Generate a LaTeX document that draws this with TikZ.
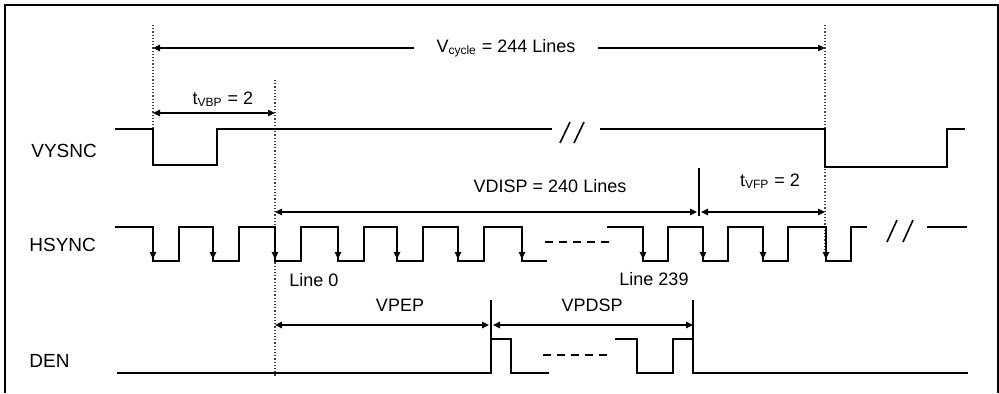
\documentclass[tikz,border=0pt]{standalone}
\usepackage{fontspec}
\setmainfont{Liberation Sans}
\usepackage{tikz}
\usetikzlibrary{arrows.meta}

\begin{document}
\begin{tikzpicture}[x=0.5pt,y=-0.5pt,>={Triangle[length=3.5pt,width=3.2pt]},
	sig/.style={line width=0.95pt},
	dim/.style={<->,line width=0.8pt},
	guide/.style={densely dotted,black!75,line width=0.6pt},
	tick/.style={line width=0.6pt},
	main label/.style={font=\fontsize{9.5}{11}\selectfont,inner sep=1pt},
	dim label/.style={font=\fontsize{9}{11}\selectfont,inner sep=1pt}]

	\useasboundingbox (0,0) rectangle (999,393);

	% frame
	\draw[line width=1pt] (5,393) -- (5,5) -- (998,5) -- (998,393);

	% signal names
	\node[main label, anchor=west] (vsync) at (29,151) {VYSNC};
	\node[main label, anchor=west] (hsync) at (27,245) {HSYNC};
	\node[main label, anchor=west] (den) at (27,361) {DEN};

	% guides
	\draw[guide] (153,25) -- (153,165);
	\draw[guide] (275,80) -- (275,377);
	\draw[guide] (825,25) -- (825,250);

	% VSYNC
	\draw[sig] (115,129) -- (153,129) -- (153,165) -- (217,165) -- (217,129) -- (552,129);
	\draw[sig] (600,129) -- (825,129) -- (825,167) -- (947,167) -- (947,129) -- (965,129);
	\draw[line width=0.8pt] (560,143) -- (570,122) (574,143) -- (584,122);

	% HSYNC
	\draw[sig] (115,227)
		\foreach \x in {153,213,275,338,397,458} { -- (\x,227) -- (\x,261) -- (\x+26,261) -- (\x+26,227) }
		-- (522,227) -- (522,261) -- (547,261);
	\draw[sig] (607,227)
		\foreach \x in {643,703,763,826} { -- (\x,227) -- (\x,261) -- (\x+25,261) -- (\x+25,227) }
		-- (867,227);
	\draw[sig] (927,227) -- (967,227);
	\foreach \x in {153,213,275,338,397,458,522,643,703,763,826}
		\draw[sig,->] (\x,240) -- (\x,259);
	\draw[line width=0.9pt, dash pattern=on 4pt off 3pt] (545,242) -- (613,242);
	\draw[line width=0.8pt] (887,242) -- (897,220) (903,242) -- (913,220);
	\node[dim label] (line0) at (314,280) {Line 0};
	\node[dim label] (line239) at (654,279) {Line 239};

	% DEN
	\draw[sig] (117,373) -- (491,373) -- (491,339) -- (511,339) -- (511,373) -- (549,373);
	\draw[sig] (615,339) -- (637,339) -- (637,373) -- (673,373) -- (673,339) -- (693,339) -- (693,373) -- (968,373);
	\draw[line width=0.9pt, dash pattern=on 4pt off 3pt] (543,355) -- (610,355);

	% ticks
	\draw[tick] (491,300) -- (491,339);
	\draw[tick] (693,300) -- (693,339);
	\draw[tick] (699,168) -- (699,216);

	% dimension points
	\coordinate (vcL) at (153,48);
	\coordinate (vcR) at (825,48);
	\coordinate (vbpL) at (153,113);
	\coordinate (vbpR) at (275,113);
	\coordinate (vdL) at (275,212);
	\coordinate (vdR) at (697,212);
	\coordinate (vfpL) at (701,212);
	\coordinate (vfpR) at (825,212);
	\coordinate (pepL) at (275,325);
	\coordinate (pepR) at (489,325);
	\coordinate (pdsL) at (493,325);
	\coordinate (pdsR) at (693,325);

	% dimension labels
	\node[dim label] (vcyc) at (506,48) {V\textsubscript{cycle} = 244 Lines};
	\node[dim label] (vbp) at (223,99) {t\textsubscript{VBP} = 2};
	\node[dim label] (vdisp) at (550,186) {VDISP = 240 Lines};
	\node[dim label] (vfp) at (770,181) {t\textsubscript{VFP} = 2};
	\node[dim label] (vpep) at (400,305) {VPEP};
	\node[dim label] (vpdsp) at (592,305) {VPDSP};

	% dimension arrows
	\draw[->,line width=0.8pt,shorten <=10pt] (vcyc) -- (vcL);
	\draw[->,line width=0.8pt,shorten <=10pt] (vcyc) -- (vcR);
	\path[dim]
	(vbpL) edge (vbpR)
	(vdL) edge (vdR)
	(vfpL) edge (vfpR)
	(pepL) edge (pepR)
	(pdsL) edge (pdsR);
\end{tikzpicture}
\end{document}
